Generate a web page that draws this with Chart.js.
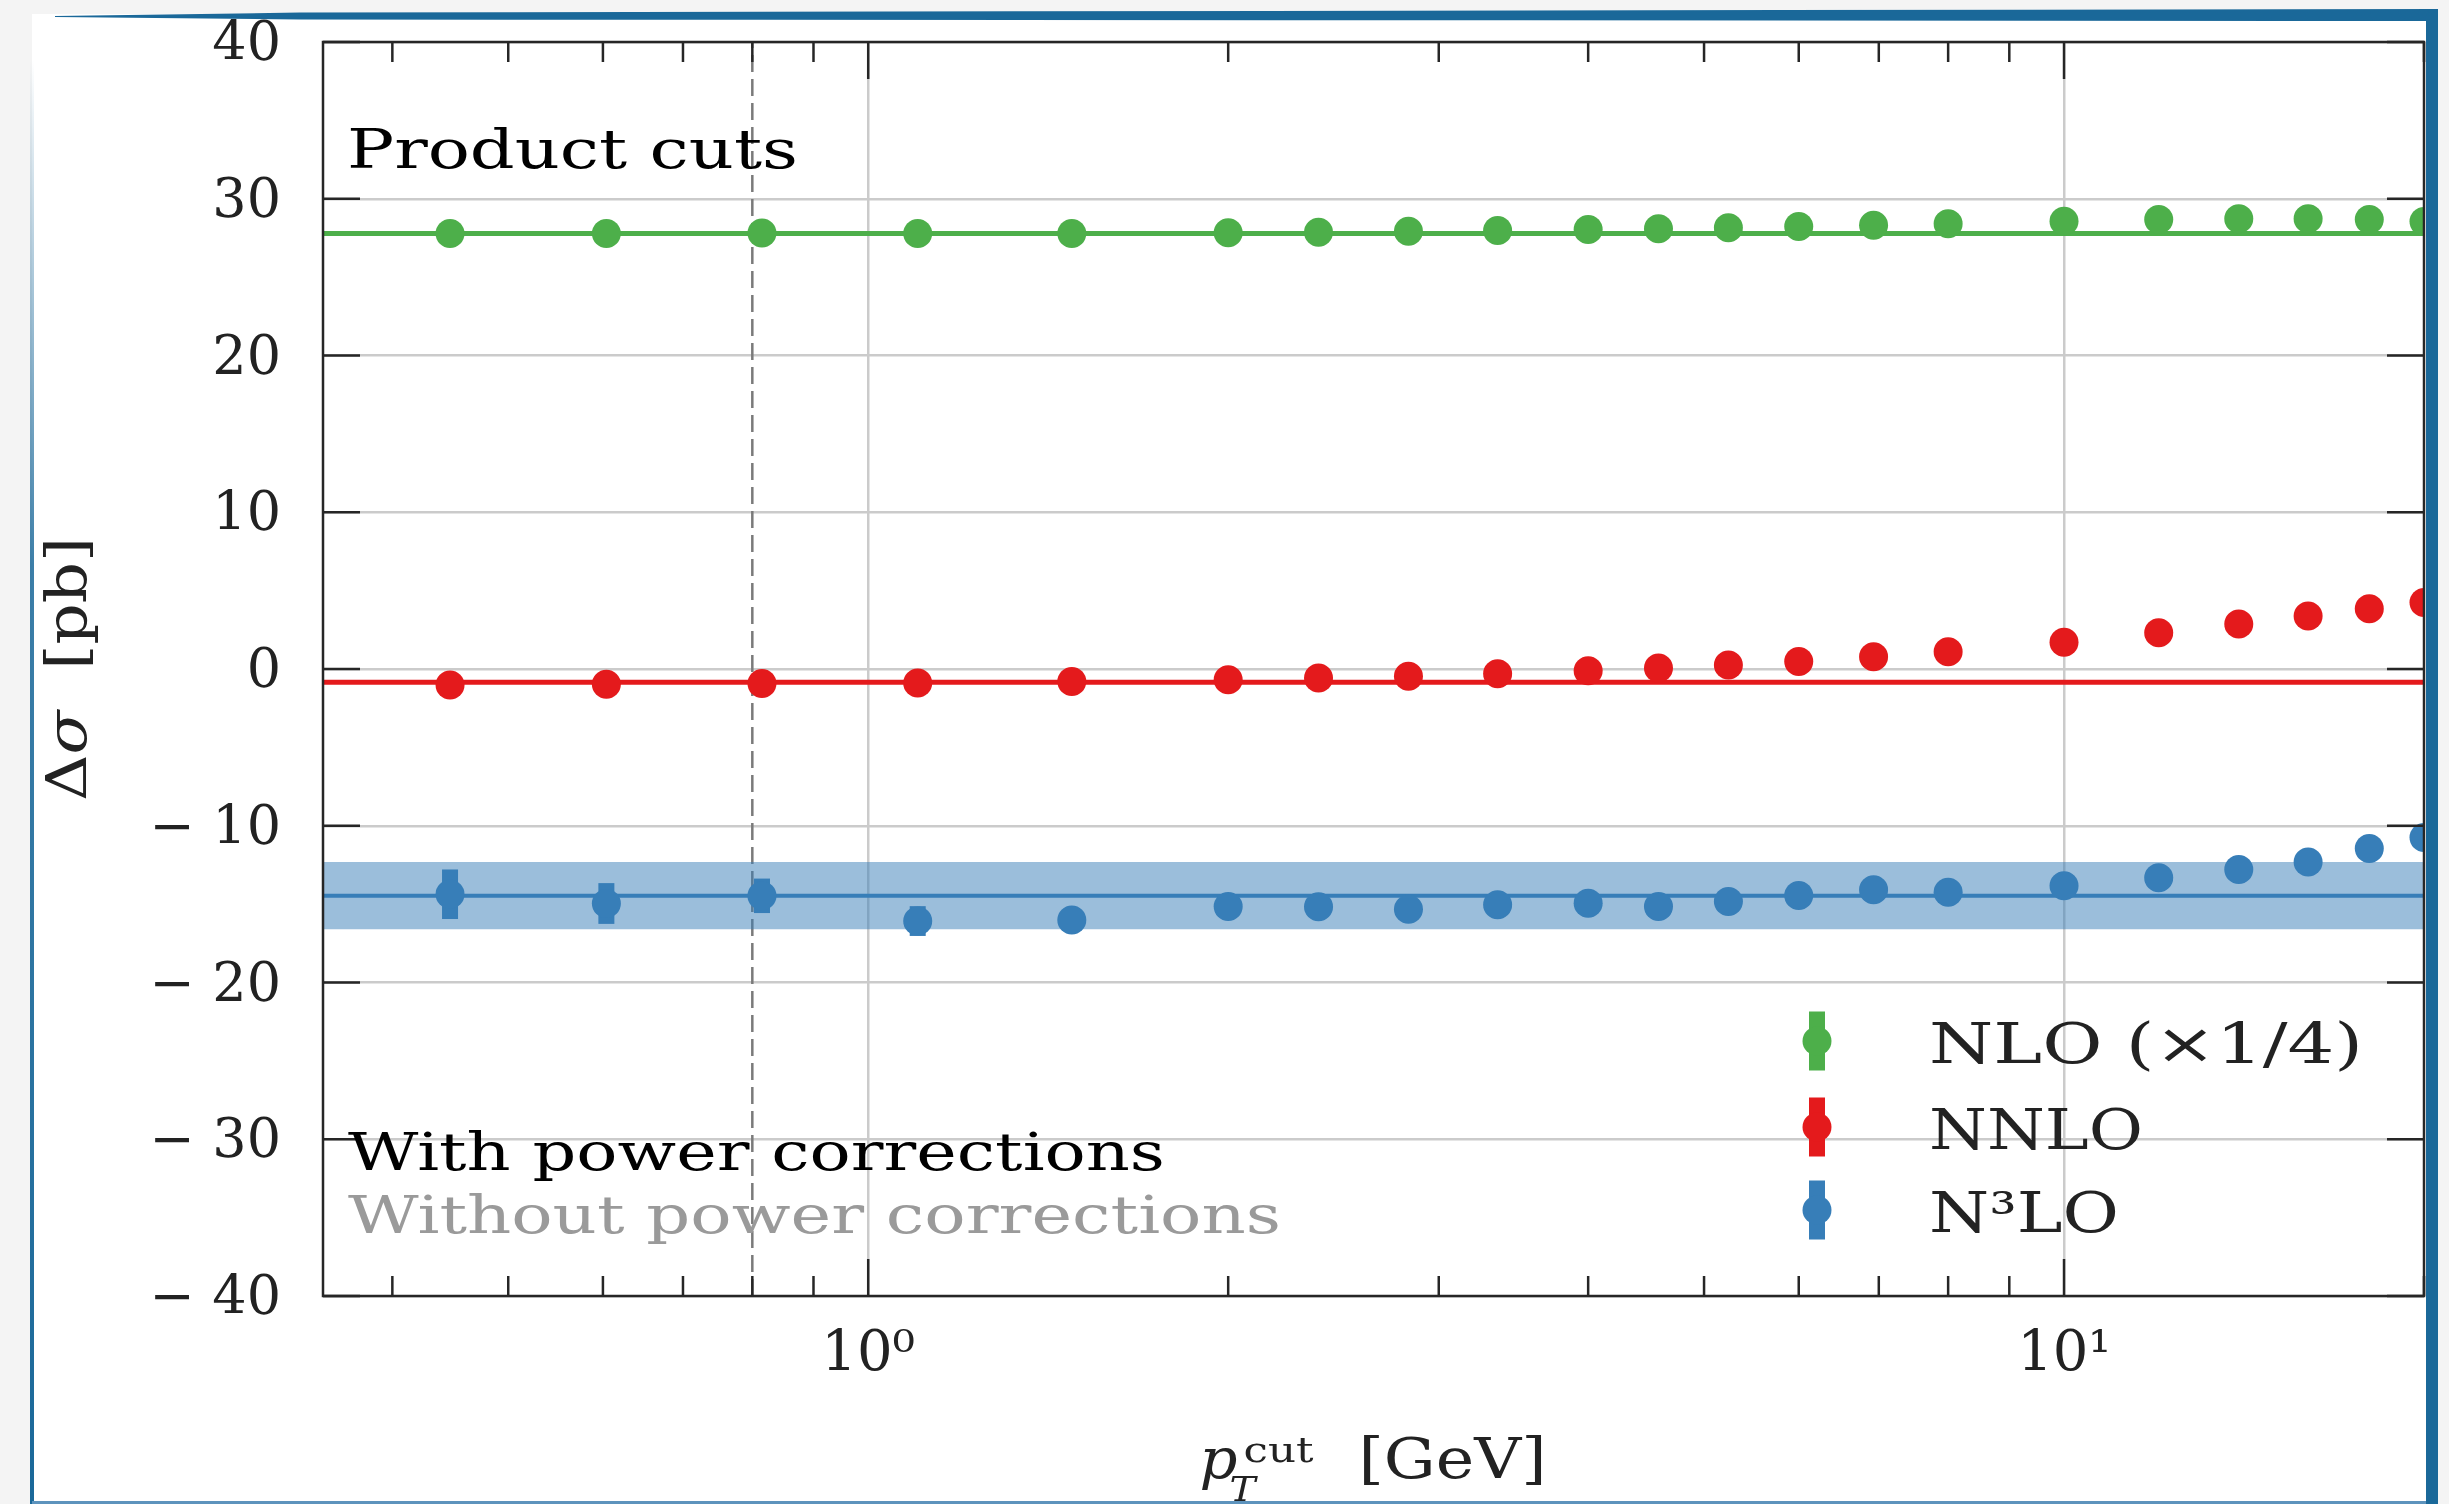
<!DOCTYPE html>
<html>
<head>
<meta charset="utf-8">
<script src="https://cdn.jsdelivr.net/npm/chart.js@4.4.1/dist/chart.umd.min.js"></script>
<style>
html,body{margin:0;padding:0;width:2449px;height:1504px;overflow:hidden;background:#f4f4f4;}
#page{position:absolute;left:32px;top:14px;width:2394px;height:1488px;background:#fff;}
#rbar{position:absolute;left:2426px;top:9px;width:12px;height:1495px;background:#1a6899;}
#tbar{position:absolute;left:0;top:0;width:2449px;height:30px;background:#1a6899;
  clip-path:polygon(55px 16px,300px 12.5px,2438px 9px,2438px 21px,300px 19.5px,55px 17px);}
#lbar{position:absolute;left:30px;top:60px;width:4px;height:1444px;
  background:linear-gradient(to bottom,rgba(26,104,153,0),rgba(26,104,153,0.85) 35%,#1a6899);}
#bbar{position:absolute;left:32px;top:1501px;width:2394px;height:3px;background:#5d93bd;}
canvas{position:absolute;left:0;top:0;}
</style>
</head>
<body>
<div id="page"></div><div id="tbar"></div><div id="rbar"></div><div id="lbar"></div><div id="bbar"></div>
<canvas id="c" width="2449" height="1504"></canvas>
<script>
// ---------------- data ----------------
const xRange = [0.35, 20];
const yRange = [-40, 40];
const pTcut = [0.447, 0.604, 0.815, 1.1, 1.48, 2.0, 2.38, 2.83, 3.36, 4.0, 4.58, 5.24, 6.0, 6.93, 8.0, 10, 12, 14, 16, 18, 20];
const nloValues  = [27.79, 27.79, 27.81, 27.79, 27.79, 27.83, 27.87, 27.93, 27.98, 28.04, 28.08, 28.15, 28.23, 28.31, 28.40, 28.57, 28.68, 28.72, 28.72, 28.68, 28.55];
const nloErrors  = [0.4, 0.4, 0.4, 0.3, 0.3, 0.3, 0.3, 0.3, 0.3, 0.3, 0.3, 0.3, 0.3, 0.3, 0.3, 0.3, 0.3, 0.3, 0.3, 0.3, 0.3];
const nnloValues = [-1.02, -0.98, -0.93, -0.90, -0.79, -0.68, -0.58, -0.47, -0.30, -0.11, 0.06, 0.25, 0.48, 0.78, 1.10, 1.70, 2.32, 2.87, 3.38, 3.85, 4.25];
const nnloErrors = [0.4, 0.4, 0.4, 0.3, 0.3, 0.3, 0.3, 0.3, 0.3, 0.3, 0.3, 0.3, 0.3, 0.3, 0.3, 0.3, 0.3, 0.3, 0.3, 0.3, 0.3];
const n3loValues = [-14.37, -14.96, -14.47, -16.08, -16.02, -15.15, -15.17, -15.32, -15.04, -14.94, -15.15, -14.83, -14.45, -14.08, -14.25, -13.83, -13.32, -12.79, -12.32, -11.45, -10.75];
const n3loErrors = [1.58, 1.30, 1.10, 0.95, 0.75, 0.6, 0.6, 0.6, 0.55, 0.55, 0.5, 0.5, 0.5, 0.5, 0.5, 0.5, 0.5, 0.5, 0.5, 0.5, 0.5];
const nloReference  = [27.79];
const nnloReference = [-0.84];
const n3loReference = [-14.47];
const n3loBand      = [-16.6, -12.32];
const cutMarker     = [0.8];
const seriesNames   = ['NLO (×1/4)', 'NNLO', 'N³LO'];
const yTicks        = [-40, -30, -20, -10, 0, 10, 20, 30, 40];
const yTickLabels   = ['−\u200440', '−\u200430', '−\u200420', '−\u200410', '0', '10', '20', '30', '40'];
const xMajorTicks   = [1, 10];
const xTickLabels   = ['10⁰', '10¹'];
const xMinorTicks   = [0.4, 0.5, 0.6, 0.7, 0.8, 0.9, 2, 3, 4, 5, 6, 7, 8, 9, 20];

// ---------------- style ----------------
const GREEN = '#4daf4a', RED = '#e41a1c', BLUE = '#377eb8';
const SERIF = '"DejaVu Serif", serif';
const INK = '#222222';

const pts = vals => pTcut.map((x, i) => ({x, y: vals[i]}));
const hline = v => xRange.map(x => ({x, y: v}));

// draw text stretched horizontally to a target width (mimics the wide Computer Modern look)
function fitText(ctx, text, x, y, font, color, target) {
  ctx.font = font; ctx.fillStyle = color;
  const w = ctx.measureText(text).width;
  const s = target ? target / w : 1;
  ctx.save(); ctx.translate(x, y); ctx.scale(s, 1); ctx.fillText(text, 0, 0); ctx.restore();
}

const decor = {
  id: 'decor',
  beforeDatasetDraw(chart, args) {
    const ds = chart.data.datasets[args.index];
    if (!ds.errors) return;
    const {ctx, chartArea: a, scales: {x, y}} = chart;
    ctx.save();
    ctx.beginPath(); ctx.rect(a.left, a.top, a.right - a.left, a.bottom - a.top); ctx.clip();
    ctx.fillStyle = ds.backgroundColor;
    ds.data.forEach((p, i) => {
      const e = ds.errors[i];
      const px = x.getPixelForValue(p.x);
      const y1 = y.getPixelForValue(p.y + e), y2 = y.getPixelForValue(p.y - e);
      ctx.fillRect(px - 8, y1, 16, y2 - y1);
    });
    ctx.restore();
  },
  afterDatasetsDraw(chart) {
    const {ctx, chartArea: a, scales: {x, y}} = chart;
    ctx.save();
    ctx.strokeStyle = '#262626';
    ctx.lineWidth = 2.5;
    const seg = (x1, y1, x2, y2) => { ctx.beginPath(); ctx.moveTo(x1, y1); ctx.lineTo(x2, y2); ctx.stroke(); };
    yTicks.forEach(v => {
      const py = y.getPixelForValue(v);
      seg(a.left, py, a.left + 37, py);
      seg(a.right - 37, py, a.right, py);
    });
    xMajorTicks.forEach(v => {
      const px = x.getPixelForValue(v);
      seg(px, a.bottom, px, a.bottom - 37);
      seg(px, a.top, px, a.top + 37);
    });
    xMinorTicks.forEach(v => {
      const px = x.getPixelForValue(v);
      seg(px, a.bottom, px, a.bottom - 20);
      seg(px, a.top, px, a.top + 20);
    });
    ctx.strokeRect(a.left, a.top, a.right - a.left, a.bottom - a.top);
    ctx.restore();
  },
  afterDraw(chart) {
    const {ctx, chartArea: a} = chart;
    ctx.save();
    ctx.textBaseline = 'alphabetic';
    ctx.textAlign = 'left';
    // annotations
    fitText(ctx, 'Product cuts', a.left + 24, a.top + 126, '54px ' + SERIF, '#000', 451);
    fitText(ctx, 'With power corrections', a.left + 25, 1170, '53px ' + SERIF, '#000', 817);
    fitText(ctx, 'Without power corrections', a.left + 25, 1233, '53px ' + SERIF, '#9a9a9a', 933);
    // legend
    const cols = [GREEN, RED, BLUE];
    const cy = [1041, 1127, 1210];
    const widths = [434, 214, 190];
    seriesNames.forEach((name, i) => {
      ctx.fillStyle = cols[i];
      ctx.fillRect(1817 - 8, cy[i] - 29.5, 16, 59);
      ctx.beginPath(); ctx.arc(1817, cy[i], 14.5, 0, Math.PI * 2); ctx.fill();
      fitText(ctx, name, 1929, cy[i] + 22, '56px ' + SERIF, INK, widths[i]);
    });
    // x axis title: p_T^cut [GeV]
    const cx = (a.left + a.right) / 2;
    ctx.fillStyle = INK;
    fitText(ctx, 'p', cx - 174, 1478, 'italic 56px ' + SERIF, INK, 38);
    fitText(ctx, 'T', cx - 144, 1501, 'italic 34px ' + SERIF, INK, 26);
    fitText(ctx, 'cut', cx - 130, 1462, '36px ' + SERIF, INK, 70);
    fitText(ctx, '[GeV]', cx - 15, 1478, '56px ' + SERIF, INK, 188);
    // y axis title: Δσ [pb]
    ctx.translate(86, (a.top + a.bottom) / 2);
    ctx.rotate(-Math.PI / 2);
    const pieces = [['Δ', '56px '], ['σ', 'italic 56px '], ['  [pb]', '56px ']];
    let total = 0;
    pieces.forEach(p => { ctx.font = p[1] + SERIF; total += ctx.measureText(p[0]).width; });
    const sc = 264 / total;
    ctx.scale(sc, 1);
    let px = -total / 2;
    pieces.forEach(p => { ctx.font = p[1] + SERIF; ctx.fillStyle = INK; ctx.fillText(p[0], px, 0); px += ctx.measureText(p[0]).width; });
    ctx.restore();
  }
};

new Chart(document.getElementById('c'), {
  type: 'line',
  data: {
    datasets: [
      { label: seriesNames[0], data: pts(nloValues), errors: nloErrors, showLine: false,
        backgroundColor: GREEN, borderColor: GREEN, pointRadius: 14.5, pointHoverRadius: 14.5,
        pointBorderWidth: 0, clip: 0, order: 1 },
      { label: seriesNames[1], data: pts(nnloValues), errors: nnloErrors, showLine: false,
        backgroundColor: RED, borderColor: RED, pointRadius: 14.5, pointHoverRadius: 14.5,
        pointBorderWidth: 0, clip: 0, order: 1 },
      { label: seriesNames[2], data: pts(n3loValues), errors: n3loErrors, showLine: false,
        backgroundColor: BLUE, borderColor: BLUE, pointRadius: 14.5, pointHoverRadius: 14.5,
        pointBorderWidth: 0, clip: 0, order: 1 },
      { label: 'NLO ref', data: hline(nloReference[0]), borderColor: GREEN, borderWidth: 5, pointRadius: 0, order: 2 },
      { label: 'NNLO ref', data: hline(nnloReference[0]), borderColor: RED, borderWidth: 5, pointRadius: 0, order: 2 },
      { label: 'N3LO ref', data: hline(n3loReference[0]), borderColor: BLUE, borderWidth: 4, pointRadius: 0, order: 2 },
      { label: 'N3LO band', data: hline(n3loBand[1]), borderWidth: 0, pointRadius: 0,
        fill: {value: n3loBand[0]}, backgroundColor: 'rgba(55,126,184,0.5)', order: 3 },
      { label: 'cut', data: yRange.map(v => ({x: cutMarker[0], y: v})), borderColor: '#7a7a7a',
        borderWidth: 2.5, borderDash: [17, 7], pointRadius: 0, order: 4 }
    ]
  },
  options: {
    responsive: false,
    animation: false,
    events: [],
    layout: {padding: {left: 0, right: 25, top: 42, bottom: 0}},
    plugins: {legend: {display: false}, tooltip: {enabled: false}},
    scales: {
      x: {
        type: 'logarithmic', min: xRange[0], max: xRange[1],
        afterBuildTicks: s => { s.ticks = xMajorTicks.map(v => ({value: v})); },
        afterFit: s => { s.height = 208; s.paddingLeft = 0; s.paddingRight = 0; },
        grid: {color: '#cbcbcb', lineWidth: 2.5, drawTicks: false},
        border: {display: false},
        ticks: {
          autoSkip: false, maxRotation: 0, padding: 26, color: INK,
          font: {family: SERIF, size: 56},
          callback: (v, i) => xTickLabels[i]
        }
      },
      y: {
        type: 'linear', min: yRange[0], max: yRange[1],
        afterBuildTicks: s => { s.ticks = yTicks.map(v => ({value: v})); },
        afterFit: s => { s.width = 323; s.paddingTop = 0; s.paddingBottom = 0; },
        grid: {color: '#cbcbcb', lineWidth: 2.5, drawTicks: false},
        border: {display: false},
        ticks: {
          padding: 42, color: INK, labelOffset: 4,
          font: {family: SERIF, size: 54},
          callback: (v, i) => yTickLabels[i]
        }
      }
    }
  },
  plugins: [decor]
});
</script>
</body>
</html>
